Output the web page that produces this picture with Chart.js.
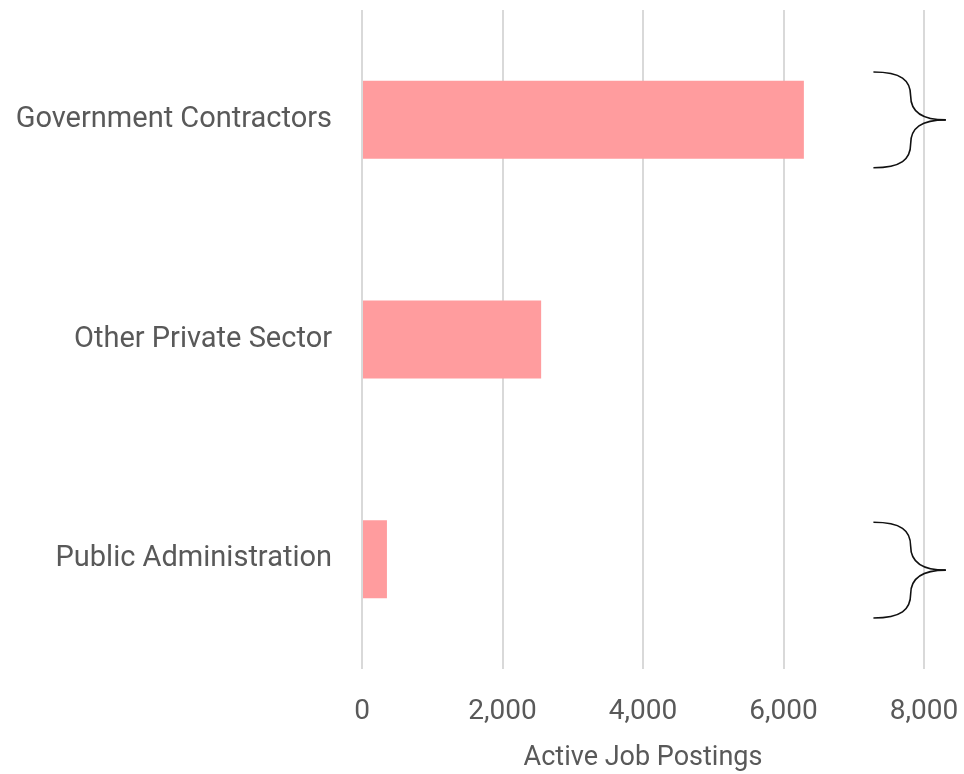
<!DOCTYPE html>
<html>
<head>
<meta charset="utf-8">
<script src="https://cdn.jsdelivr.net/npm/chart.js@4"></script>
<style>
  html, body { margin: 0; padding: 0; background: #ffffff; }
  #wrap { width: 964px; height: 774px; }
</style>
</head>
<body>
<div id="wrap"><canvas id="postings"></canvas></div>
<script>
const sectors = ['Government Contractors', 'Other Private Sector', 'Public Administration'];
const postings = [6290, 2550, 355];
const xTicks = [0, 2000, 4000, 6000, 8000];

const FONT = "Roboto, 'Open Sans', sans-serif";
const GREY = '#595959';

// curly braces to the right of the bars: x in axis units, y in category index units
const braces = [
    { x0: 7280, xm: 7810, xt: 8310, yc: 0, half: 0.218 },
    { x0: 7280, xm: 7810, xt: 8310, yc: 2.05, half: 0.218 },
];

const bracePlugin = {
    id: 'braces',
    afterDraw(chart) {
        const { ctx } = chart;
        const xs = chart.scales.x;
        const ys = chart.scales.y;
        ctx.save();
        ctx.strokeStyle = '#111111';
        ctx.lineWidth = 1.6;
        braces.forEach((b) => {
            const x0 = xs.getPixelForValue(b.x0);
            const xm = xs.getPixelForValue(b.xm);
            const xt = xs.getPixelForValue(b.xt);
            const yc = ys.getPixelForValue(b.yc);
            const top = ys.getPixelForValue(b.yc - b.half);
            const bot = ys.getPixelForValue(b.yc + b.half);
            [top, bot].forEach((y0) => {
                const yq = (y0 + yc) / 2;
                ctx.beginPath();
                ctx.moveTo(x0, y0);
                ctx.bezierCurveTo(x0 + (xm - x0) * 0.75, y0, xm, y0 + (yq - y0) * 0.35, xm, yq);
                ctx.bezierCurveTo(xm, yq + (yc - yq) * 0.65, xm + (xt - xm) * 0.3, yc, xt, yc);
                ctx.stroke();
            });
        });
        ctx.restore();
    },
};

new Chart(document.getElementById('postings'), {
    type: 'bar',
    data: {
        labels: sectors,
        datasets: [{
            data: postings,
            backgroundColor: '#ff9c9e',
            borderWidth: 0,
            barPercentage: 0.355,
            categoryPercentage: 1,
        }],
    },
    options: {
        indexAxis: 'y',
        responsive: true,
        maintainAspectRatio: false,
        animation: false,
        layout: { padding: { top: 10, right: 40, left: 0, bottom: 0 } },
        plugins: {
            legend: { display: false },
            tooltip: { enabled: false },
        },
        scales: {
            x: {
                min: 0,
                max: 8000,
                afterBuildTicks: (scale) => {
                    scale.ticks = xTicks.map((v) => ({ value: v }));
                },
                grid: { color: '#d9d9d9', lineWidth: 2, drawTicks: false },
                border: { display: false },
                ticks: {
                    color: GREY,
                    padding: 26,
                    font: { family: FONT, size: 28 },
                    callback: (v) => Number(v).toLocaleString('en-US'),
                },
                title: {
                    display: true,
                    text: 'Active Job Postings',
                    color: GREY,
                    font: { family: FONT, size: 27 },
                    padding: { top: 10, bottom: 0 },
                },
                afterFit: (scale) => {
                    scale.height = 105;
                    scale.paddingLeft = 0;
                    scale.paddingRight = 0;
                },
            },
            y: {
                grid: { display: false, drawTicks: false },
                border: { display: false },
                ticks: {
                    color: GREY,
                    padding: 30,
                    font: { family: FONT, size: 29 },
                },
                afterFit: (scale) => {
                    scale.width = 362;
                    scale.paddingTop = 0;
                    scale.paddingBottom = 0;
                },
            },
        },
    },
    plugins: [bracePlugin],
});
</script>
</body>
</html>
